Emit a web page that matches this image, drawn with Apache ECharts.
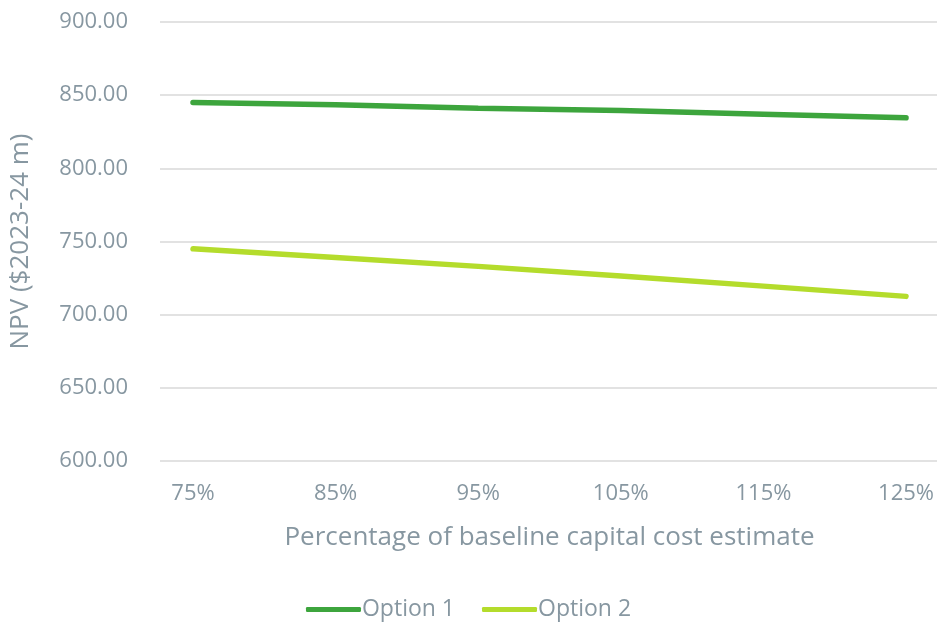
<!DOCTYPE html>
<html>
<head>
<meta charset="utf-8">
<script src="https://cdn.jsdelivr.net/npm/echarts@6/dist/echarts.min.js"></script>
<style>
  html, body { margin: 0; padding: 0; background: #ffffff; }
  #chart { width: 937px; height: 624px; }
</style>
</head>
<body>
<div id="chart"></div>
<script>
// Capital cost sensitivity of NPV
const categories = ['75%', '85%', '95%', '105%', '115%', '125%'];
const option1 = [845.0, 843.5, 841.0, 839.5, 837.0, 834.5];
const option2 = [745.0, 739.0, 733.0, 726.5, 719.5, 712.5];
const yTicks = { min: 600, max: 900, interval: 50 };

const labelColor = '#8797a1';
const font = '"Open Sans", "Noto Sans", sans-serif';

const chart = echarts.init(document.getElementById('chart'));
chart.setOption({
  animation: false,
  backgroundColor: '#ffffff',
  textStyle: { fontFamily: font },
  grid: [
    // wide grid carrying the horizontal gridlines and value labels
    { left: 160, right: 0, top: 22, bottom: 163 },
    // plotting grid whose ends sit on the first and last categories
    { left: 193, right: 29, top: 22, bottom: 163 }
  ],
  xAxis: [
    { gridIndex: 0, type: 'value', min: 0, max: 1, show: false },
    {
      gridIndex: 1,
      type: 'category',
      data: categories,
      boundaryGap: false,
      axisLine: { show: false },
      axisTick: { show: false },
      axisLabel: { color: labelColor, fontSize: 22, margin: 22, fontFamily: font },
      name: 'Percentage of baseline capital cost estimate',
      nameLocation: 'middle',
      nameGap: 64,
      nameTextStyle: { color: labelColor, fontSize: 26, fontFamily: font }
    }
  ],
  yAxis: [
    {
      gridIndex: 0,
      type: 'value',
      min: yTicks.min, max: yTicks.max, interval: yTicks.interval,
      axisLine: { show: false },
      axisTick: { show: false },
      splitLine: { lineStyle: { color: '#d9d9d9', width: 1.5 } },
      axisLabel: {
        color: labelColor, fontSize: 22, margin: 32, fontFamily: font,
        formatter: v => v.toFixed(2)
      },
      name: 'NPV ($2023-24 m)',
      nameLocation: 'middle',
      nameGap: 126,
      nameTextStyle: { color: labelColor, fontSize: 26, fontFamily: font }
    },
    {
      gridIndex: 1,
      type: 'value',
      min: yTicks.min, max: yTicks.max, interval: yTicks.interval,
      show: false
    }
  ],
  legend: {
    bottom: -2,
    left: 'center',
    itemWidth: 55,
    itemHeight: 5,
    itemGap: 27,
    icon: 'roundRect',
    textStyle: { color: labelColor, fontSize: 23, fontFamily: font, padding: [0, 0, 0, -4] },
    data: ['Option 1', 'Option 2']
  },
  series: [
    {
      name: 'Option 1',
      type: 'line',
      xAxisIndex: 1, yAxisIndex: 1,
      data: option1,
      symbol: 'none',
      lineStyle: { color: '#3da53d', width: 5.5, cap: 'round' },
      itemStyle: { color: '#3da53d' }
    },
    {
      name: 'Option 2',
      type: 'line',
      xAxisIndex: 1, yAxisIndex: 1,
      data: option2,
      symbol: 'none',
      lineStyle: { color: '#b4dc2c', width: 5.5, cap: 'round' },
      itemStyle: { color: '#b4dc2c' }
    }
  ]
});
</script>
</body>
</html>
